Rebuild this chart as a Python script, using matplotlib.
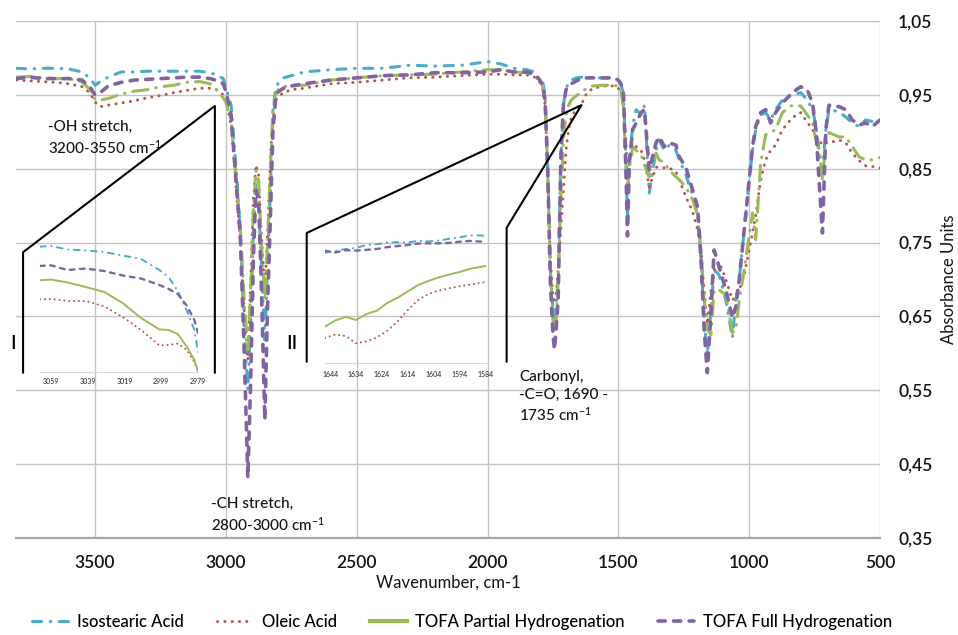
import matplotlib

matplotlib.use("Agg")
import matplotlib.pyplot as plt
from matplotlib.lines import Line2D
from matplotlib.ticker import FuncFormatter

plt.rcParams["font.family"] = ["Lato", "DejaVu Sans"]
plt.rcParams["font.weight"] = "medium"
plt.rcParams["mathtext.fontset"] = "custom"
plt.rcParams["mathtext.rm"] = "Lato:medium"
plt.rcParams["mathtext.default"] = "regular"

# FTIR spectra, wavenumber (cm-1) vs absorbance
WAVENUMBER = [
    3800, 3750, 3700, 3650, 3600, 3550, 3520, 3500, 3480, 3450, 3400, 3350, 3300, 3250, 3200, 3150, 3100, 3060, 3030, 3010,
    3000, 2980, 2960, 2945, 2930, 2916, 2905, 2895, 2885, 2875, 2865, 2851, 2840, 2830, 2820, 2810, 2800, 2780, 2750,
    2700, 2600, 2500, 2400, 2300, 2200, 2100, 2000, 1950, 1900, 1850, 1820, 1800,
    1790, 1780, 1770, 1760, 1750, 1744, 1738, 1730, 1720, 1710, 1700, 1690, 1680, 1660, 1640, 1620, 1600, 1560, 1520, 1500, 1490, 1480,
    1470, 1465, 1458, 1445, 1432, 1413, 1400, 1382, 1356, 1344, 1324, 1305, 1280, 1267, 1242, 1216, 1197, 1184, 1172, 1160,
    1146, 1134, 1115, 1089, 1064, 1051, 1038, 1019, 1000, 987, 975, 956, 937, 918, 899, 873, 835, 803, 778, 758, 745, 733,
    720, 707, 695, 656, 631, 606, 580, 555, 529, 500,
]

ISOSTEARIC = [
    .986, .985, .986, .986, .985, .981, .973, .963, .968, .974, .981, .981, .982, .982, .982, .982, .982, .980, .976, .972,
    .960, .936, .848, .767, .632, .551, .645, .767, .828, .808, .727, .618, .727, .821, .930, .957, .966, .973, .976,
    .981, .984, .986, .986, .990, .989, .990, .995, .992, .986, .984, .981, .970,
    .970, .950, .855, .713, .659, .643, .666, .700, .862, .936, .959, .966, .970, .973, .974, .974, .973, .973, .973, .970, .965, .950,
    .848, .781, .862, .909, .930, .923, .936, .817, .875, .889, .875, .882, .875, .862, .842, .814, .787, .727, .645, .598,
    .659, .713, .706, .672, .621, .672, .700, .767, .835, .875, .903, .923, .926, .916, .930, .943, .950, .953, .943, .930, .909, .875,
    .848, .903, .930, .927, .920, .912, .907, .916, .914, .915,
]

OLEIC = [
    .970, .969, .968, .967, .965, .961, .953, .940, .934, .936, .939, .942, .946, .949, .953, .956, .959, .959, .956, .950,
    .945, .909, .821, .754, .659, .591, .700, .808, .855, .842, .767, .686, .767, .862, .923, .943, .947, .953, .957,
    .959, .965, .967, .970, .973, .974, .976, .978, .978, .977, .977, .974, .967,
    .959, .936, .848, .727, .679, .672, .679, .713, .767, .821, .875, .903, .919, .932, .938, .953, .958, .962, .962, .959, .954, .930,
    .880, .835, .862, .882, .880, .875, .862, .825, .852, .852, .851, .851, .846, .835, .812, .792, .767, .740, .686, .639,
    .686, .713, .724, .700, .672, .677, .686, .706, .740, .763, .787, .835, .862, .875, .882, .903, .919, .926, .913, .903, .896, .889,
    .882, .885, .885, .889, .885, .871, .861, .854, .853, .851,
]

TOFA_PARTIAL = [
    .974, .975, .973, .972, .972, .968, .957, .944, .943, .945, .951, .955, .957, .961, .963, .967, .968, .965, .955, .946,
    .940, .916, .835, .774, .672, .605, .686, .794, .848, .835, .754, .672, .754, .848, .930, .950, .957, .961, .963,
    .963, .970, .973, .976, .977, .978, .981, .984, .984, .981, .980, .977, .967,
    .963, .943, .848, .713, .645, .628, .645, .700, .808, .889, .923, .936, .943, .949, .954, .959, .962, .963, .963, .962, .957, .930,
    .848, .826, .848, .880, .875, .869, .855, .839, .871, .862, .858, .848, .839, .835, .825, .808, .787, .740, .672, .632,
    .625, .686, .686, .679, .628, .632, .672, .713, .759, .790, .754, .858, .896, .899, .903, .926, .936, .935, .923, .912, .889, .875,
    .835, .889, .899, .893, .893, .880, .866, .862, .862, .865,
]

TOFA_FULL = [
    .972, .974, .972, .972, .972, .970, .961, .950, .953, .962, .967, .970, .971, .972, .973, .974, .974, .972, .969, .965,
    .955, .923, .828, .760, .605, .432, .564, .727, .821, .808, .700, .510, .672, .781, .903, .943, .954, .959, .962,
    .965, .970, .973, .976, .977, .980, .980, .981, .984, .981, .981, .978, .970,
    .963, .943, .848, .700, .625, .605, .632, .672, .862, .936, .957, .961, .965, .969, .972, .973, .973, .973, .973, .970, .965, .950,
    .835, .759, .858, .903, .912, .926, .930, .848, .885, .893, .880, .885, .882, .866, .852, .821, .798, .727, .632, .574,
    .655, .740, .717, .686, .648, .663, .700, .767, .835, .880, .907, .926, .930, .912, .926, .939, .953, .961, .957, .939, .903, .835,
    .763, .903, .936, .934, .930, .916, .909, .912, .907, .916,
]

# zoom I: 3065-2979 cm-1, relative scale
ZOOM1_WN = [3065, 3059, 3050, 3040, 3030, 3020, 3010, 3000, 2995, 2990, 2985, 2981, 2979]
ZOOM1_ISOSTEARIC = [.987, .992, .965, .957, .945, .917, .890, .803, .748, .638, .480, .331, .157]
ZOOM1_OLEIC = [.572, .575, .559, .559, .516, .433, .331, .209, .213, .224, .173, .079, .008]
ZOOM1_PARTIAL = [.722, .728, .705, .669, .630, .543, .425, .335, .331, .299, .197, .094, .008]
ZOOM1_FULL = [.835, .840, .803, .815, .795, .760, .736, .685, .654, .614, .520, .409, .307]
ZOOM1_TICKS = [3059, 3039, 3019, 2999, 2979]

# zoom II: 1646-1584 cm-1, relative scale
ZOOM2_WN = [1646, 1642, 1638, 1634, 1630, 1626, 1622, 1618, 1614, 1610, 1606, 1602, 1598, 1594, 1590, 1586, 1584]
ZOOM2_ISOSTEARIC = [.829, .843, .857, .865, .887, .893, .906, .908, .906, .919, .914, .921, .934, .945, .959, .959, .955]
ZOOM2_OLEIC = [.188, .214, .203, .148, .162, .192, .241, .312, .398, .474, .519, .544, .562, .577, .589, .602, .608]
ZOOM2_PARTIAL = [.274, .320, .347, .323, .368, .393, .451, .490, .538, .586, .617, .644, .665, .684, .708, .722, .729]
ZOOM2_FULL = [.844, .831, .848, .845, .851, .857, .871, .879, .887, .898, .900, .900, .903, .912, .918, .913, .912]
ZOOM2_TICKS = [1644, 1634, 1624, 1614, 1604, 1594, 1584]

X_TICKS = [3500, 3000, 2500, 2000, 1500, 1000, 500]
Y_TICKS = [0.35, 0.45, 0.55, 0.65, 0.75, 0.85, 0.95, 1.05]

CYAN = "#4bacc6"
RED = "#c0504d"
GREEN = "#9bbb59"
PURPLE = "#8064a2"
INK = "#141414"

STYLES = {
    "Isostearic Acid": dict(color=CYAN, lw=2.2, ls=(0, (3.0, 2.8, 0.2, 2.8)), dash_capstyle="round"),
    "Oleic Acid": dict(color=RED, lw=2.1, ls=(0, (0.1, 2.4)), dash_capstyle="round"),
    "TOFA Partial Hydrogenation": dict(color=GREEN, lw=2.2, ls=(0, (5, 2.6, 0.2, 2.6)), dash_capstyle="round"),
    "TOFA Full Hydrogenation": dict(color=PURPLE, lw=2.6, ls=(0, (2.0, 2.3)), dash_capstyle="round"),
}
SERIES = {
    "Isostearic Acid": ISOSTEARIC,
    "Oleic Acid": OLEIC,
    "TOFA Partial Hydrogenation": TOFA_PARTIAL,
    "TOFA Full Hydrogenation": TOFA_FULL,
}


def comma_decimal(value, _pos):
    return f"{value:.2f}".replace(".", ",")


fig = plt.figure(figsize=(9.58, 6.35), dpi=100)
ax = fig.add_axes([16 / 958, 1 - 538 / 635, 864 / 958, 517 / 635])

for name, values in SERIES.items():
    ax.plot(WAVENUMBER, values, zorder=3, **STYLES[name])

ax.set_xlim(3802, 500)
ax.set_ylim(0.35, 1.05)
ax.set_xticks(X_TICKS)
ax.set_yticks(Y_TICKS)
ax.yaxis.set_major_formatter(FuncFormatter(comma_decimal))
ax.yaxis.tick_right()
ax.yaxis.set_label_position("right")
ax.tick_params(axis="both", length=0, labelsize=12.5, colors=INK)
ax.tick_params(axis="y", pad=13)
ax.tick_params(axis="x", pad=12)
for label in ax.get_xticklabels() + ax.get_yticklabels():
    label.set_fontweight("semibold")
ax.grid(True, color="#c4c4c4", lw=1.0)
ax.set_axisbelow(True)
for side in ("left", "top", "right"):
    ax.spines[side].set_visible(False)
ax.spines["bottom"].set_color("#a6a6a6")
ax.spines["bottom"].set_linewidth(1.6)
ax.set_xlabel("Wavenumber, cm-1", fontsize=12, color=INK, labelpad=3)
ax.set_ylabel("Absorbance Units", fontsize=12, color=INK, labelpad=6)

# callout frames for the two zoomed windows
callout_kw = dict(color="black", lw=1.5, zorder=4, clip_on=False)
ax.plot([3775, 3775, 3042, 3042], [0.574, 0.737, 0.935, 0.574], **callout_kw)
ax.plot([2691, 2691, 1641, 1927, 1927], [0.589, 0.763, 0.936, 0.770, 0.589], **callout_kw)

note_kw = dict(fontsize=11, color=INK, ha="left", va="center", linespacing=1.3)
ax.text(3679, 0.891, "-OH stretch,\n3200-3550 cm$^{-1}$", **note_kw)
ax.text(3057, 0.381, "-CH stretch,\n2800-3000 cm$^{-1}$", **note_kw)
ax.text(1878, 0.541, "Carbonyl,\n-C=O, 1690 -\n1735 cm$^{-1}$", **note_kw)
ax.text(3813, 0.614, "I", fontsize=14, ha="center", va="center", clip_on=False)
ax.text(2748, 0.614, "II", fontsize=14, ha="center", va="center")


def draw_zoom(rect, wn, series, xlim, ticks, label_pad):
    inset = fig.add_axes(rect)
    inset.patch.set_alpha(0)
    for name, values in zip(SERIES, series):
        style = dict(STYLES[name])
        style["lw"] = 1.4 if name != "TOFA Full Hydrogenation" else 1.7
        if name == "TOFA Partial Hydrogenation":
            style["ls"] = "-"
        inset.plot(wn, values, **style)
    inset.set_xlim(*xlim)
    inset.set_ylim(0, 1)
    inset.set_xticks(ticks)
    inset.set_xticklabels([str(t) for t in ticks])
    inset.set_yticks([])
    inset.tick_params(axis="x", length=0, labelsize=5, pad=label_pad, colors="#333333")
    for side in ("left", "top", "right"):
        inset.spines[side].set_visible(False)
    inset.spines["bottom"].set_color("#d9d9d9")
    inset.spines["bottom"].set_linewidth(0.8)
    return inset


draw_zoom(
    [40 / 958, 1 - 372 / 635, 158 / 958, 127 / 635],
    ZOOM1_WN,
    [ZOOM1_ISOSTEARIC, ZOOM1_OLEIC, ZOOM1_PARTIAL, ZOOM1_FULL],
    (3065, 2979),
    ZOOM1_TICKS,
    4,
)
draw_zoom(
    [325 / 958, 1 - 363 / 635, 163 / 958, 133 / 635],
    ZOOM2_WN,
    [ZOOM2_ISOSTEARIC, ZOOM2_OLEIC, ZOOM2_PARTIAL, ZOOM2_FULL],
    (1646, 1583),
    ZOOM2_TICKS,
    6,
)

handles = []
for name in SERIES:
    style = dict(STYLES[name])
    if name == "TOFA Partial Hydrogenation":
        style["ls"] = "-"
        style["lw"] = 3
    handles.append(Line2D([], [], **style))
fig.legend(
    handles,
    list(SERIES),
    loc="center",
    bbox_to_anchor=(0.482, 1 - 622 / 635),
    ncol=4,
    frameon=False,
    fontsize=12,
    handlelength=2.2,
    columnspacing=2.0,
    handletextpad=0.5,
)

fig.savefig("out.png", dpi=100)
